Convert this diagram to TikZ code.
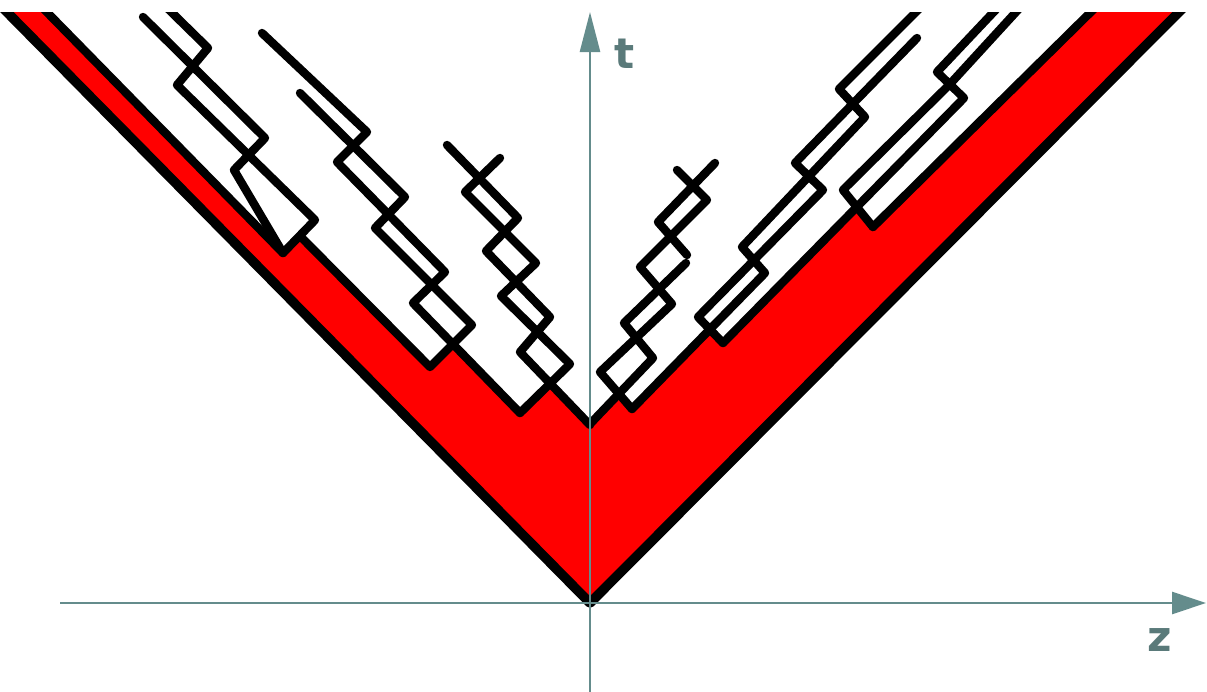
\documentclass[tikz,border=0pt]{standalone}
\usepackage{fontspec}
\setsansfont{DejaVu Sans}
\usetikzlibrary{arrows.meta}
\definecolor{axisgray}{RGB}{100,140,140}
\definecolor{labelgray}{RGB}{90,122,122}
\definecolor{conered}{RGB}{255,0,0}
\begin{document}
\begin{tikzpicture}[x=0.5pt,y=-0.5pt,line join=round,line cap=round,
  worldline/.style={line width=4.2pt,black},
  coneline/.style={line width=4.8pt,black},
  axisline/.style={line width=1.3pt,axisgray},
  axislabel/.style={text=labelgray,font=\sffamily\bfseries\fontsize{21}{21}\selectfont,inner sep=0pt}]
\useasboundingbox (0,0) rectangle (1207,692);
\begin{scope}
\clip (0,12) rectangle (1207,692);
% red region
\fill[conered] (-5,0) -- (590,603) -- (1191,0) -- (1103,0) -- (873,227) -- (857,206)
  -- (723,343) -- (710,329) -- (632,409) -- (618,393) -- (590,424) -- (550,384)
  -- (520,413) -- (453,344) -- (430,367) -- (300,236) -- (283,253) -- (35,0) -- cycle;
% light cone
\draw[coneline] (-5,0) -- (590,603) -- (1191,0);
% inner boundaries of the red region
\draw[worldline] (35,0) -- (283,253);
\draw[worldline] (1103,0) -- (873,227);
% chain A (left, outer)
\draw[worldline] (143,17) -- (265,138) -- (234,170) -- (283,253);
\draw[worldline] (159,0) -- (208,48) -- (177,85) -- (315,220) -- (283,253);
% chain B (left, middle)
\draw[worldline] (262,33) -- (367,132) -- (337,162) -- (445,272) -- (413,303) -- (520,413);
\draw[worldline] (300,93) -- (405,197) -- (375,228) -- (472,325) -- (430,367) -- (300,236);
% chain C (left, inner)
\draw[worldline] (447,145) -- (518,218) -- (486,251) -- (550,317) -- (520,352) -- (590,425);
\draw[worldline] (500,158) -- (465,192) -- (536,263) -- (501,296) -- (570,364) -- (520,413);
% chain D (right, inner)
\draw[worldline] (677,170) -- (707,200) -- (640,267) -- (672,304) -- (600,372) -- (632,409);
\draw[worldline] (715,163) -- (658,222) -- (687,255);
\draw[worldline] (686,263) -- (624,323) -- (653,358) -- (590,424);
% chain E (right, middle)
\draw[worldline] (928,0) -- (839,89) -- (865,117) -- (742,247) -- (765,273) -- (632,409);
\draw[worldline] (917,38) -- (795,163) -- (823,190) -- (698,317) -- (723,343);
% chain F (right, outer)
\draw[worldline] (1005,0) -- (937,72) -- (964,98) -- (723,343);
\draw[worldline] (1027,0) -- (950,84) -- (843,190) -- (873,227);
\end{scope}
% axes
\coordinate (zstart) at (60,603);
\coordinate (zend) at (1206,603);
\coordinate (tstart) at (590,692);
\coordinate (tend) at (590,12);
\draw[axisline,line cap=butt,-{Triangle[length=17pt,width=11pt]}] (zstart) -- (zend);
\draw[axisline,line cap=butt,-{Triangle[length=20pt,width=10pt]}] (tstart) -- (tend);
\node[axislabel] (tlabel) at (625,54) {t};
\node[axislabel] (zlabel) at (1160,640) {z};
\end{tikzpicture}
\end{document}
